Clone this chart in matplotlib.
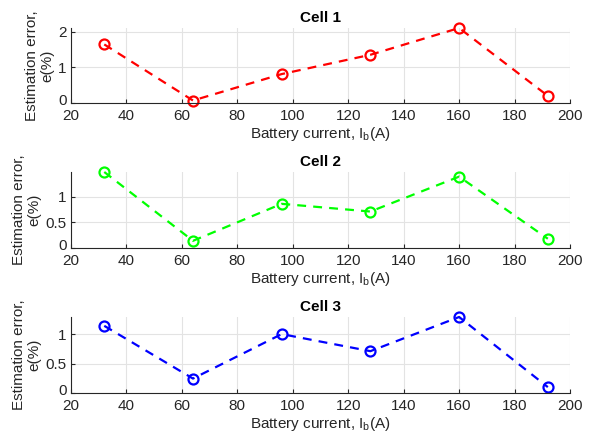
import matplotlib
matplotlib.use("Agg")
import matplotlib.pyplot as plt
from matplotlib.transforms import ScaledTranslation

current = [32, 64, 96, 128, 160, 192]
cell1 = [1.64, 0.07, 0.81, 1.35, 2.10, 0.20]
cell2 = [1.48, 0.14, 0.86, 0.71, 1.39, 0.18]
cell3 = [1.14, 0.245, 1.00, 0.71, 1.29, 0.10]
titles = ["Cell 1", "Cell 2", "Cell 3"]
colors = ["#ff0000", "#00ff00", "#0000ff"]
yticks = [[0, 1, 2], [0, 0.5, 1], [0, 0.5, 1]]
ytlabels = [["0", "1", "2"], ["0", "0.5", "1"], ["0", "0.5", "1"]]
xticks = [20, 40, 60, 80, 100, 120, 140, 160, 180, 200]

plt.rcParams['font.family'] = ['Liberation Sans', 'DejaVu Sans']
plt.rcParams['font.size'] = 11
plt.rcParams['mathtext.fontset'] = 'custom'
plt.rcParams['mathtext.rm'] = 'Liberation Sans'
plt.rcParams['mathtext.it'] = 'Liberation Sans'

fig = plt.figure(figsize=(5.92, 4.34), dpi=100)
W, H = 592, 434
boxes = [(28, 103), (172, 248), (317, 393)]
dark = "#262626"
for i, (data, top_bot) in enumerate(zip([cell1, cell2, cell3], boxes)):
    top, bot = top_bot
    ax = fig.add_axes([71 / W, 1 - bot / H, 499 / W, (bot - top) / H])
    ax.plot(current, data, linestyle=(0, (4, 3.2)), color=colors[i], linewidth=1.6,
            marker='o', markersize=7.2, markerfacecolor='none', markeredgewidth=1.6,
            clip_on=False)
    ax.set_xlim(20, 200)
    ax.set_ylim(0, max(data))
    ax.set_xticks(xticks)
    ax.set_yticks(yticks[i])
    ax.set_yticklabels(ytlabels[i])
    ax.grid(True, color="#e3e3e3", linewidth=0.8)
    ax.set_axisbelow(True)
    for s in ['top', 'right']:
        ax.spines[s].set_visible(False)
    for s in ['left', 'bottom']:
        ax.spines[s].set_color(dark)
        ax.spines[s].set_linewidth(0.8)
    ax.tick_params(direction='in', length=3, colors=dark, labelsize=11)
    ax.tick_params(axis='x', pad=4)
    ax.tick_params(axis='y', pad=3)
    lab0 = ax.get_yticklabels()[0]
    lab0.set_transform(lab0.get_transform() + ScaledTranslation(0, 2.2 / 72, fig.dpi_scale_trans))
    ax.set_title(titles[i], fontsize=11, fontweight='bold', pad=4)
    ax.set_xlabel("Battery current, I$_\\mathrm{b}$(A)", fontsize=11, color=dark, labelpad=2)
    ax.set_ylabel("Estimation error,\ne(%)", fontsize=11, color=dark, labelpad=3,
                  linespacing=1.15)

fig.savefig("out.png", dpi=100)
